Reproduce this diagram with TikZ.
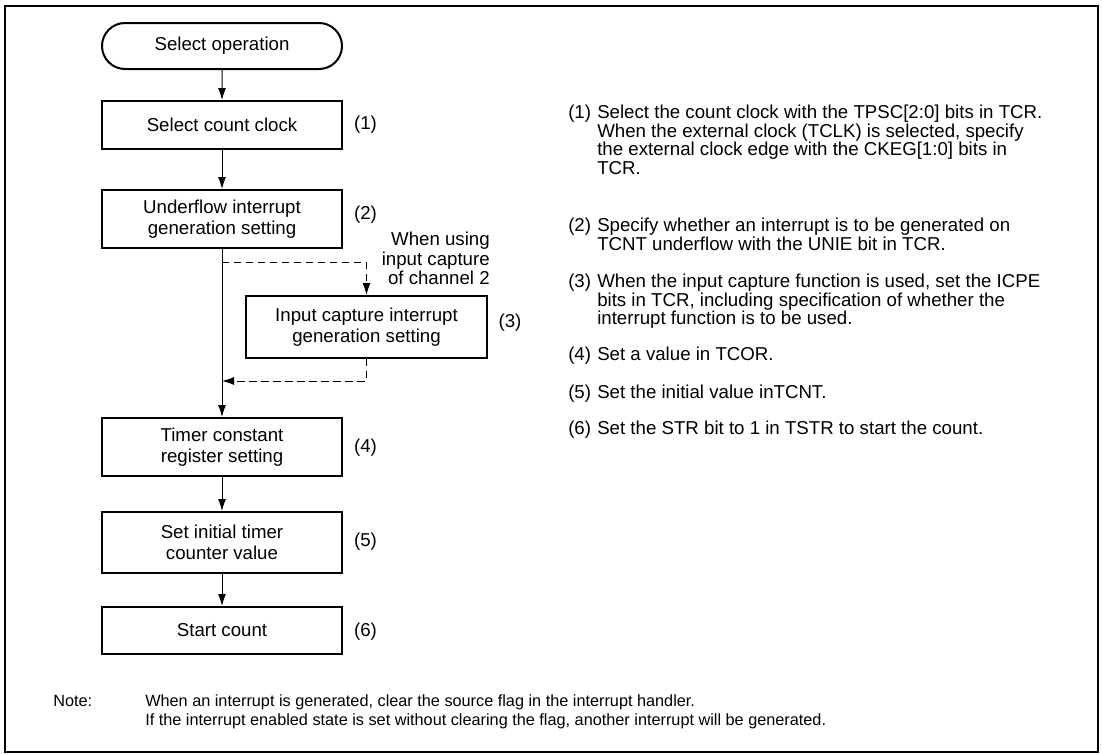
\documentclass[tikz,border=0pt]{standalone}
\usepackage{fontspec}
\setmainfont{Liberation Sans}
\usetikzlibrary{shapes, arrows.meta, positioning, calc}

\begin{document}
\begin{tikzpicture}[x=0.75pt, y=-0.75pt,
  stepbox/.style={draw, line width=1.5pt, minimum width=180pt, inner sep=0pt,
    align=center, font=\fontsize{14}{16}\selectfont},
  startbox/.style={stepbox, rounded rectangle, minimum height=34.5pt},
  flow/.style={line width=0.75pt, -{Latex[length=9pt, width=6pt]}},
  opt/.style={flow, dash pattern=on 5.5pt off 3.5pt},
  tag/.style={font=\fontsize{14}{16}\selectfont},
  desc/.style={anchor=base west, align=left, inner sep=0pt,
    font=\fontsize{14}{13.9}\selectfont},
  notestyle/.style={anchor=base west, align=left, inner sep=0pt,
    font=\fontsize{12.2}{14.25}\selectfont}]
\useasboundingbox (0,0) rectangle (1102,753);
\draw[line width=1.5pt] (5,6) rectangle (1098,752);

% Flow of steps
\node[startbox] (start) at (222,46) {Select operation};
\node[stepbox, minimum height=36pt] (clock) at (222,125) {Select count clock};
\node[stepbox, minimum height=43.5pt] (unie) at (222,219) {Underflow interrupt\\generation setting};
\node[stepbox, minimum width=181pt, minimum height=46.5pt] (icpe) at (366.5,327) {Input capture interrupt\\generation setting};
\node[stepbox, minimum height=43.5pt] (tcor) at (222,447) {Timer constant\\register setting};
\node[stepbox, minimum height=45.75pt] (tcnt) at (222,542.5) {Set initial timer\\counter value};
\node[stepbox, minimum height=35.25pt] (str) at (222,630.5) {Start count};

% Step numbers
\node[tag] (n1) at (365.5,125) {(1)};
\node[tag] (n2) at (365.5,215) {(2)};
\node[tag] (n3) at (510,323) {(3)};
\node[tag] (n4) at (365.5,448) {(4)};
\node[tag] (n5) at (365.5,542) {(5)};
\node[tag] (n6) at (365.5,632) {(6)};

% base anchor sits on the last line
\node[anchor=base east, align=right, inner sep=0pt, font=\fontsize{14}{14.5}\selectfont] (cond) at (490,284.5) {When using\\input capture\\of channel 2};

\coordinate (tap) at (222,262);
\coordinate (back) at (222,381);
\draw[flow] (start) -- (clock);
\draw[flow] (clock) -- (unie);
\draw[flow] (unie) -- (tcor);
\draw[opt] (tap) -| (icpe);
\draw[opt] (icpe) |- (back);
\draw[flow] (tcor) -- (tcnt);
\draw[flow] (tcnt) -- (str);

% Explanations
\node[desc] (d1) at (568,118.7) {(1)};
\node[desc] (t1) at (597,174.3) {Select the count clock with the TPSC[2:0] bits in TCR.\\When the external clock (TCLK) is selected, specify\\the external clock edge with the CKEG[1:0] bits in\\TCR.};
\node[desc] (d2) at (568,231.7) {(2)};
\node[desc] (t2) at (597,250.2) {Specify whether an interrupt is to be generated on\\TCNT underflow with the UNIE bit in TCR.};
\node[desc] (d3) at (568,287.7) {(3)};
\node[desc] (t3) at (597,324.8) {When the input capture function is used, set the ICPE\\bits in TCR, including specification of whether the\\interrupt function is to be used.};
\node[desc] (d4) at (568,360.7) {(4)};
\node[desc] (t4) at (597,360.7) {Set a value in TCOR.};
\node[desc] (d5) at (568,398.7) {(5)};
\node[desc] (t5) at (597,398.7) {Set the initial value inTCNT.};
\node[desc] (d6) at (568,434.7) {(6)};
\node[desc] (t6) at (597,434.7) {Set the STR bit to 1 in TSTR to start the count.};

% Note
\node[notestyle] (note) at (53,706) {Note:};
\node[notestyle] (notetext) at (145,725) {When an interrupt is generated, clear the source flag in the interrupt handler.\\If the interrupt enabled state is set without clearing the flag, another interrupt will be generated.};
\end{tikzpicture}
\end{document}
